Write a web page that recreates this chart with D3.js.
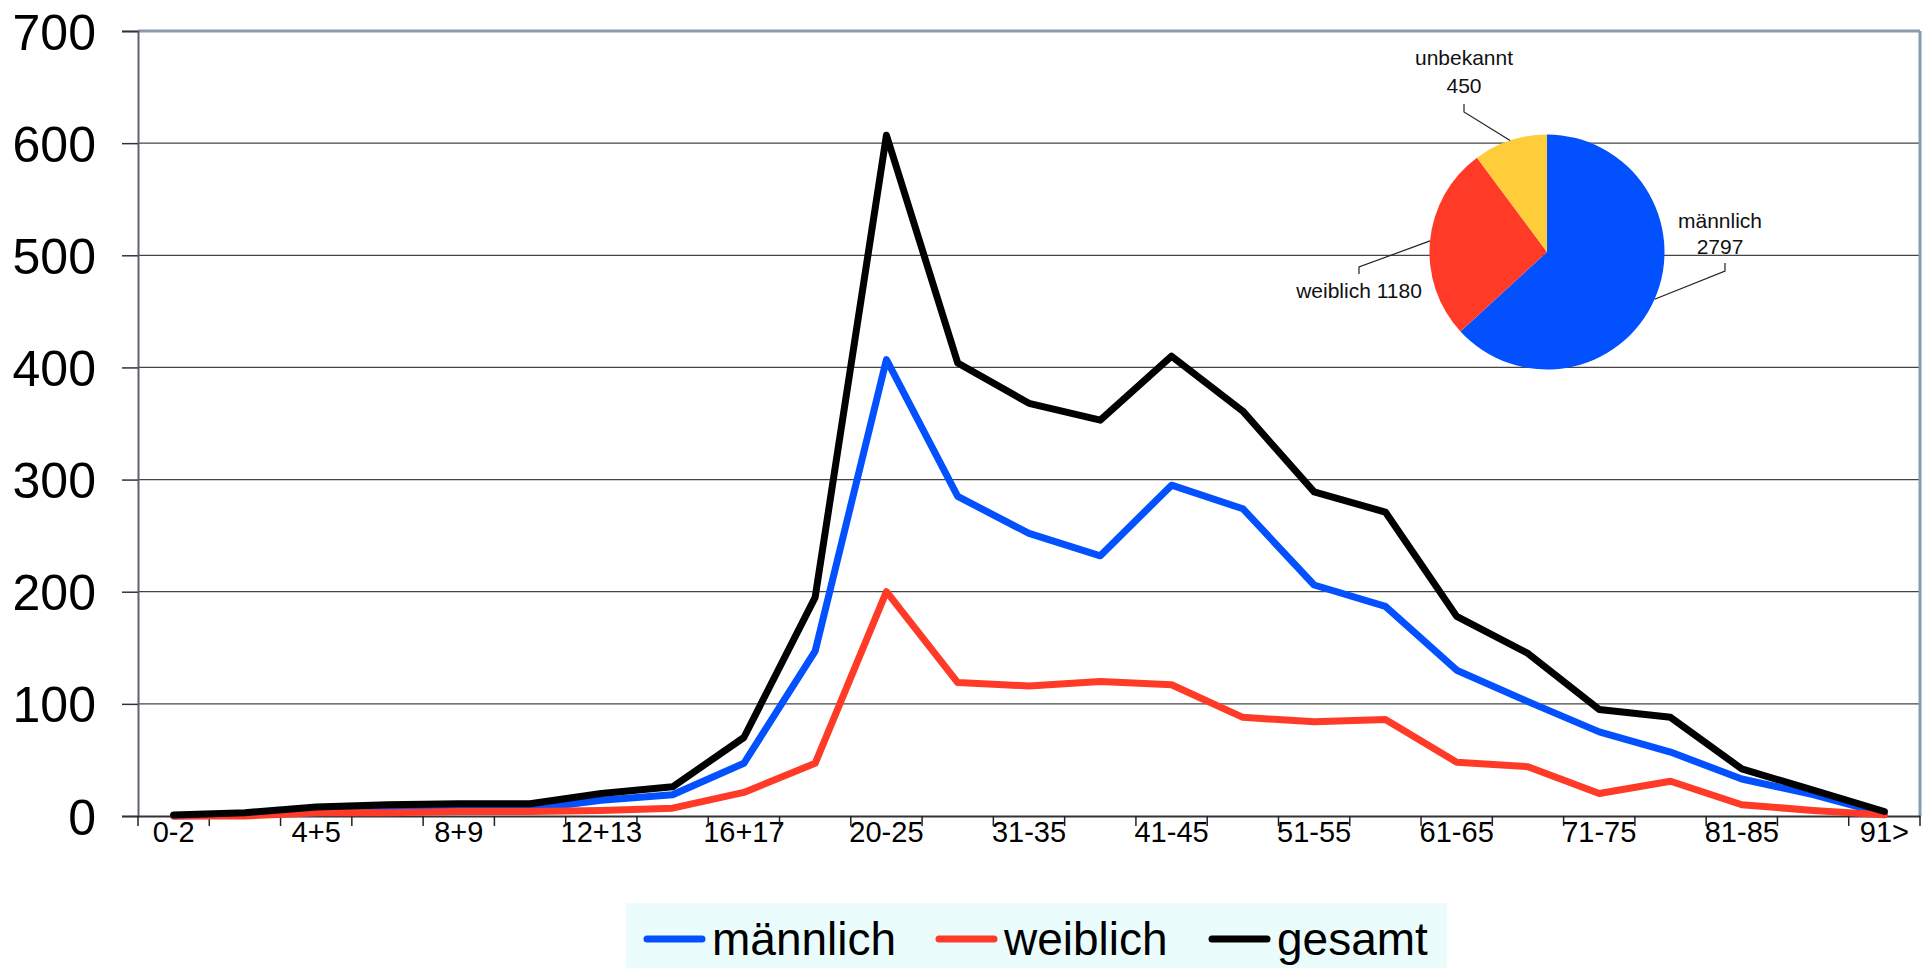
<!DOCTYPE html>
<html>
<head>
<meta charset="utf-8">
<script src="https://cdn.jsdelivr.net/npm/d3@7"></script>
<style>
  body { margin: 0; background: #fff; }
  text { font-family: "Liberation Sans", Arial, sans-serif; fill: #000; }
</style>
</head>
<body>
<svg id="chart" width="1925" height="968"></svg>
<script>
var categories = ['0-2', '2+3', '4+5', '6+7', '8+9', '10+11', '12+13', '14+15', '16+17', '18+19',
  '20-25', '26-30', '31-35', '36-40', '41-45', '46-50', '51-55', '56-60', '61-65', '66-70',
  '71-75', '76-80', '81-85', '86-90', '91>'];
var maennlich = [0, 1, 3, 5, 6, 6, 14, 19, 47, 147, 407, 285, 252, 232, 295, 274, 206, 187, 130, 102, 75, 57, 33, 19, 2];
var weiblich = [0, 0, 3, 3, 4, 4, 5, 7, 21, 47, 200, 119, 116, 120, 117, 88, 84, 86, 48, 44, 20, 31, 10, 5, 1];
var gesamt = [1, 3, 8, 10, 11, 11, 20, 26, 70, 195, 607, 404, 368, 353, 410, 361, 289, 271, 178, 145, 95, 88, 42, 23, 4];
var yTicks = [0, 100, 200, 300, 400, 500, 600, 700];

var pieLabels = ['männlich', 'weiblich', 'unbekannt'];
var pieValues = [2797, 1180, 450];

var svg = d3.select('#chart');
var plotLeft = 138, plotRight = 1920, plotTop = 31, plotBottom = 816;

var x = d3.scaleBand().domain(categories).range([plotLeft, plotRight]).padding(0);
var y = d3.scaleLinear().domain([0, 700]).range([plotBottom, plotTop]);

// gridlines
svg.append('g')
  .selectAll('line')
  .data(yTicks.filter(function(d) { return d > 0 && d < 700; }))
  .enter().append('line')
  .attr('x1', plotLeft).attr('x2', plotRight)
  .attr('y1', function(d) { return y(d); })
  .attr('y2', function(d) { return y(d); })
  .style('stroke', '#444')
  .style('stroke-width', 1.3);

// frame top and right
svg.append('line')
  .attr('x1', plotLeft).attr('x2', plotRight).attr('y1', y(700)).attr('y2', y(700))
  .style('stroke', '#8a9aae').style('stroke-width', 3);
svg.append('line')
  .attr('x1', plotRight).attr('x2', plotRight).attr('y1', y(700)).attr('y2', plotBottom)
  .style('stroke', '#8a9aae').style('stroke-width', 3);

// y axis
var yAxis = svg.append('g')
  .attr('transform', 'translate(' + plotLeft + ',0)')
  .call(d3.axisLeft(y).tickValues(yTicks).tickSize(16).tickPadding(26));
yAxis.select('.domain').style('stroke', '#5d6270').style('stroke-width', 2);
yAxis.selectAll('.tick line').style('stroke', '#333').style('stroke-width', 1.5);
yAxis.selectAll('.tick text')
  .style('font-size', '50px')
  .style('font-family', '"Liberation Sans", Arial, sans-serif')
  .attr('dy', '0.36em');

// x axis
var xAxis = svg.append('g')
  .attr('transform', 'translate(0,' + plotBottom + ')')
  .call(d3.axisBottom(x)
    .tickSize(0)
    .tickPadding(5)
    .tickFormat(function(d, i) { return i % 2 === 0 ? d : ''; }));
xAxis.select('.domain').style('stroke', '#333').style('stroke-width', 2);
xAxis.selectAll('.tick text')
  .style('font-size', '29px')
  .style('font-family', '"Liberation Sans", Arial, sans-serif')
  .attr('dy', '0.71em');

// band boundary ticks
var bounds = categories.map(function(c) { return x(c); }).concat([x.range()[1]]);
svg.append('g')
  .selectAll('line')
  .data(bounds)
  .enter().append('line')
  .attr('x1', function(d) { return d; })
  .attr('x2', function(d) { return d; })
  .attr('y1', plotBottom)
  .attr('y2', plotBottom + 10)
  .style('stroke', '#222')
  .style('stroke-width', 1.5);

// lines
var series = [
  { name: 'männlich', values: maennlich, color: '#0350ff' },
  { name: 'weiblich', values: weiblich, color: '#ff3b28' },
  { name: 'gesamt', values: gesamt, color: '#000000' }
];

var line = d3.line()
  .x(function(d, i) { return x(categories[i]) + x.bandwidth() / 2; })
  .y(function(d) { return y(d); });

svg.append('g')
  .selectAll('path')
  .data(series)
  .enter().append('path')
  .attr('d', function(s) { return line(s.values); })
  .style('fill', 'none')
  .style('stroke', function(s) { return s.color; })
  .style('stroke-width', 7)
  .style('stroke-linejoin', 'round')
  .style('stroke-linecap', 'round');

// pie
var pieColors = ['#0350ff', '#ff3b28', '#ffcc3a'];
var cx = 1547, cy = 252, r = 117.5;
var arcs = d3.pie().sort(null)(pieValues);
var arc = d3.arc().innerRadius(0).outerRadius(r);

var pieG = svg.append('g').attr('transform', 'translate(' + cx + ',' + cy + ')');
pieG.selectAll('path')
  .data(arcs)
  .enter().append('path')
  .attr('d', arc)
  .style('fill', function(d, i) { return pieColors[i]; });

function edgePoint(a) {
  var mid = (a.startAngle + a.endAngle) / 2;
  return [cx + Math.sin(mid) * r, cy - Math.cos(mid) * r];
}

// leader lines: [elbow x, elbow y, tick end y]
var leaders = [[1725, 271, 263], [1359, 267, 274], [1464, 112, 104]];
leaders.forEach(function(l, i) {
  var p = edgePoint(arcs[i]);
  svg.append('path')
    .attr('d', 'M' + p[0] + ',' + p[1] + 'L' + l[0] + ',' + l[1] + 'L' + l[0] + ',' + l[2])
    .style('fill', 'none')
    .style('stroke', '#222')
    .style('stroke-width', 1.2);
});

var labelStyle = function(sel) {
  sel.style('font-size', '21px').attr('text-anchor', 'middle').style('fill', '#111');
};
svg.append('text').attr('x', 1720).attr('y', 228).text(pieLabels[0]).call(labelStyle);
svg.append('text').attr('x', 1720).attr('y', 254).text(pieValues[0]).call(labelStyle);
svg.append('text').attr('x', 1359).attr('y', 298).text(pieLabels[1] + ' ' + pieValues[1]).call(labelStyle);
svg.append('text').attr('x', 1464).attr('y', 65).text(pieLabels[2]).call(labelStyle);
svg.append('text').attr('x', 1464).attr('y', 93).text(pieValues[2]).call(labelStyle);

// legend
var legend = svg.append('g');
legend.append('rect')
  .attr('x', 626).attr('y', 903).attr('width', 821).attr('height', 65)
  .style('fill', '#ebfcfc');
var legendX = [647, 939, 1212];
series.forEach(function(s, i) {
  legend.append('line')
    .attr('x1', legendX[i]).attr('x2', legendX[i] + 55)
    .attr('y1', 939).attr('y2', 939)
    .style('stroke', s.color).style('stroke-width', 7).style('stroke-linecap', 'round');
  legend.append('text')
    .attr('x', legendX[i] + 65).attr('y', 955)
    .style('font-size', '46px')
    .text(s.name);
});
</script>
</body>
</html>
